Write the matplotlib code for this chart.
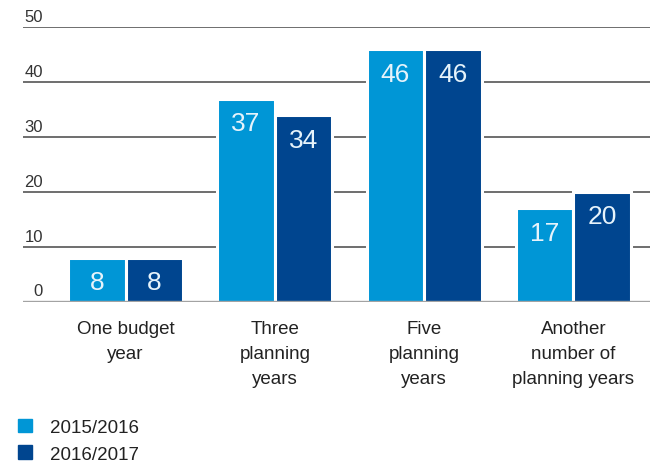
"""
Planning horizon survey: grouped bar chart.
"""

import numpy as np
import matplotlib.pyplot as plt
from matplotlib.patches import Patch

categories = ["One budget\nyear", "Three\nplanning\nyears", "Five\nplanning\nyears",
              "Another\nnumber of\nplanning years"]
series_names = ["2015/2016", "2016/2017"]
values_2015 = [8, 37, 46, 17]
values_2016 = [8, 34, 46, 20]
y_ticks = [0, 10, 20, 30, 40, 50]

light_blue = "#0096d6"
dark_blue = "#00458f"

plt.rcParams['font.family'] = ['Liberation Sans', 'DejaVu Sans']


def main():
    fig = plt.figure(figsize=(6.59, 4.64), dpi=100)
    ax = fig.add_axes([0.0349, 0.3476, 0.9514, 0.5914])

    x = np.arange(len(categories))
    width = 0.385
    off = 0.1926
    b1 = ax.bar(x - off, values_2015, width, color=light_blue, edgecolor="white",
                linewidth=2.2, zorder=3, label=series_names[0])
    b2 = ax.bar(x + off, values_2016, width, color=dark_blue, edgecolor="white",
                linewidth=2.2, zorder=3, label=series_names[1])

    for bars, vals in ((b1, values_2015), (b2, values_2016)):
        for rect, v in zip(bars, vals):
            ax.annotate(str(v), (rect.get_x() + rect.get_width() / 2, v),
                        xytext=(0, -9), textcoords="offset points",
                        ha="center", va="top", color="#e6f3fb", fontsize=19,
                        zorder=4)

    ax.set_xlim(-0.687, 3.513)
    ax.set_ylim(0, 50)

    for t in y_ticks[1:]:
        ax.axhline(t, color="#555555", linewidth=1.2, zorder=1)
    ax.axhline(0, color="#a3a3a3", linewidth=2.4, zorder=5)

    # y tick labels sit above their grid lines
    for t in y_ticks:
        ax.text(0.032, t + 0.6, str(t), transform=ax.get_yaxis_transform(),
                ha="right", va="bottom", fontsize=12, color="#333333")

    ax.set_yticks([])
    ax.set_xticks(x)
    ax.set_xticklabels(categories, fontsize=13.5, color="#222222", linespacing=1.62,
                       va="top")
    ax.tick_params(axis="x", length=0, pad=13)
    for s in ax.spines.values():
        s.set_visible(False)

    handles = [Patch(color=light_blue), Patch(color=dark_blue)]
    fig.legend(handles, series_names, loc="upper left", bbox_to_anchor=(0.028, 0.095),
               frameon=False, fontsize=13.5, handlelength=0.7, handleheight=0.7,
               handletextpad=1.0, labelspacing=0.5, borderaxespad=0,
               borderpad=0, labelcolor="#222222")

    fig.savefig("out.png", dpi=100)


if __name__ == "__main__":
    main()
